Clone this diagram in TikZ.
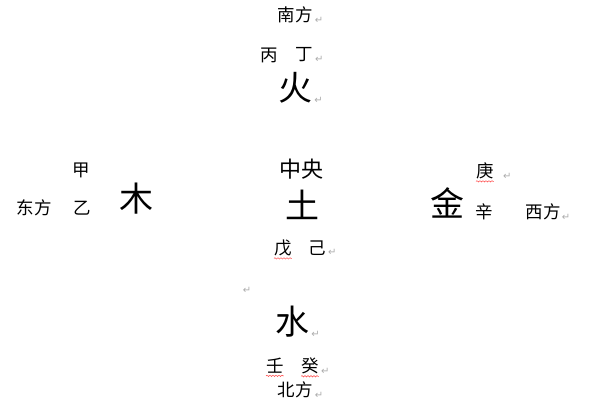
\documentclass[tikz,border=0pt]{standalone}
\usepackage{fontspec}
\newfontfamily\cjk{Noto Sans CJK SC}
\newfontfamily\symb{DejaVu Sans}
\usetikzlibrary{positioning,decorations.pathmorphing}

\begin{document}
\begin{tikzpicture}[
            x=1pt, y=-1pt,
            every node/.style={inner sep=0pt, font=\cjk},
            small/.style={font=\cjk\fontsize{17.5}{17.5}\selectfont},
            mid/.style={font=\cjk\fontsize{22}{22}\selectfont},
            big/.style={font=\cjk\fontsize{34}{34}\selectfont},
            ret/.style={anchor=south west, font=\symb\fontsize{10}{10}\selectfont, text=gray!65},
            typo/.style={draw=red!75, decorate, decoration={snake, amplitude=0.7pt, segment length=3pt}, line width=0.5pt}
  ]
  \useasboundingbox (0,0) rectangle (600,400);

  % fire, south
  \node[small] (south) at (295,15) {南方};
  \node[ret] (southret) at ([xshift=2pt]south.south east) {↵};
  \node[small] (bing) at (269,55) {丙};
  \node[small] (ding) at (304,55) {丁};
  \node[ret] (dingret) at ([xshift=2pt]ding.south east) {↵};
  \node[big] (huo) at (295,88) {火};
  \node[ret] (huoret) at ([xshift=2pt]huo.south east) {↵};

  % middle rows
  \node[small] (jia) at (81,170) {甲};
  \node[mid] (centre) at (301,169) {中央};
  \node[small] (geng) at (485,171) {庚};
  \node[ret] (gengret) at ([xshift=9pt]geng.south east) {↵};

  \node[small] (east) at (34,208) {东方};
  \node[small] (yi) at (82,208) {乙};
  \node[big] (mu) at (136,199) {木};
  \node[big] (tu) at (302,205) {土};
  \node[big] (jin) at (447,203) {金};
  \node[small] (xin) at (484,212) {辛};
  \node[small] (west) at (543,212) {西方};
  \node[ret] (westret) at ([xshift=1pt]west.south east) {↵};

  \node[small] (wu) at (283,248) {戊};
  \node[small] (ji) at (317,248) {己};
  \node[ret] (jiret) at ([xshift=2pt]ji.south east) {↵};

  % water, north
  \node[ret, anchor=center] (blank) at (247,290) {↵};
  \node[big] (shui) at (292,322) {水};
  \node[ret] (shuiret) at ([xshift=2pt]shui.south east) {↵};
  \node[small] (ren) at (275,366) {壬};
  \node[small] (gui) at (310,366) {癸};
  \node[ret] (guiret) at ([xshift=2pt]gui.south east) {↵};
  \node[small] (north) at (295,390) {北方};
  \node[ret] (northret) at ([xshift=2pt]north.south east) {↵};

  % spelling marks
  \draw[typo] ([yshift=-2pt]geng.south west) -- ([yshift=-2pt]geng.south east);
  \draw[typo] ([yshift=-2pt]wu.south west) -- ([yshift=-2pt]wu.south east);
  \draw[typo] ([yshift=-2pt]ren.south west) -- ([yshift=-2pt]ren.south east);
  \draw[typo] ([yshift=-2pt]gui.south west) -- ([yshift=-2pt]gui.south east);

\end{tikzpicture}
\end{document}
